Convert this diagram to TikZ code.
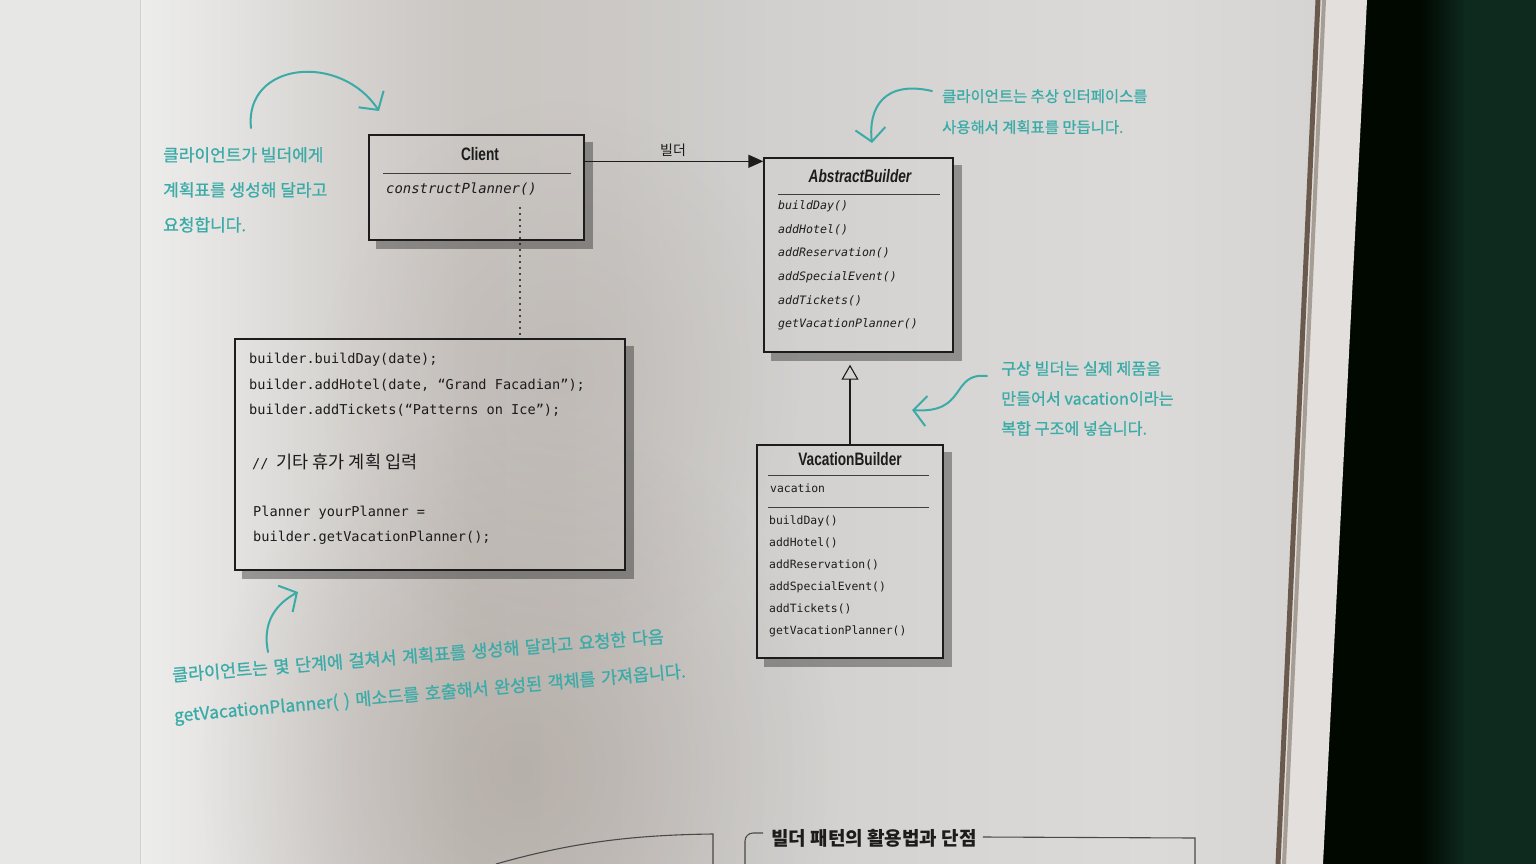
\documentclass[tikz,border=0pt]{standalone}
\usepackage{fontspec}
\setmainfont{Liberation Sans}
\setmonofont{DejaVu Sans Mono}
\newfontfamily\titlefont[FakeStretch=0.76]{Liberation Sans}
\newfontfamily\krfont{Noto Sans CJK KR}
\newfontfamily\handfont[FakeBold=0.9]{Noto Sans CJK KR}
\usetikzlibrary{arrows.meta,calc,fadings}

\tikzfading[name=softspot, inner color=transparent!0, outer color=transparent!100]

\definecolor{ink}{HTML}{1C1C1C}
\definecolor{notecol}{HTML}{3BABA8}
\definecolor{edgebrown}{HTML}{6A5A4E}
\definecolor{leftpage}{HTML}{E7E7E5}
\definecolor{pagestrip}{HTML}{E2DFDC}
\definecolor{deskgreen}{HTML}{0E291E}
\definecolor{pgA}{HTML}{EDEDEB}
\definecolor{pgB}{HTML}{E3E2E0}
\definecolor{pgC}{HTML}{D4D1CE}
\definecolor{pgD}{HTML}{CAC6C2}
\definecolor{pgE}{HTML}{CBC8C5}
\definecolor{pgF}{HTML}{D1D0CE}
\definecolor{pgG}{HTML}{D7D6D4}
\definecolor{pgH}{HTML}{DBDAD8}
\definecolor{pgI}{HTML}{D5D4D2}
\definecolor{pageshadow}{HTML}{8E8178}

\pgfdeclarelayer{paper}
\pgfdeclarelayer{shade}
\pgfsetlayers{paper,shade,main}

% paper tone across the page, light near the fold, greyer in the middle
\pgfdeclarehorizontalshading{pagetone}{100bp}{%
  color(0bp)=(pgA);
  color(25bp)=(pgA);
  color(29bp)=(pgB);
  color(34bp)=(pgC);
  color(39bp)=(pgD);
  color(45bp)=(pgE);
  color(52bp)=(pgF);
  color(60bp)=(pgG);
  color(68bp)=(pgH);
  color(75bp)=(pgI);
  color(100bp)=(pgI)}

\tikzset{
  umlbox/.style={draw=ink, line width=1.4pt, inner sep=0pt},
  divider/.style={draw=ink!85, line width=0.9pt},
  classtitle/.style={font=\fontsize{18}{20}\titlefont\bfseries, text=ink, inner sep=0pt},
  absmethod/.style={font=\fontsize{11.6}{14}\ttfamily\itshape, text=ink, anchor=west, inner sep=0pt},
  concmethod/.style={font=\fontsize{11.4}{14}\ttfamily, text=ink, anchor=west, inner sep=0pt},
  codeline/.style={font=\fontsize{13.6}{16}\ttfamily, text=ink, anchor=west, inner sep=0pt},
  note/.style={text=notecol, align=left, anchor=north west, inner sep=0pt},
  noteword/.style={text=notecol, inner sep=0pt, font=\fontsize{17.4}{20}\handfont},
  notearrow/.style={draw=notecol, line width=2pt, line cap=round,
    -{Straight Barb[length=13pt,width=30pt,line width=2pt]}},
  assoc/.style={draw=ink, line width=1.4pt, -{Triangle[length=15pt,width=13pt]}},
  generalize/.style={draw=ink, line width=1.1pt, -{Triangle[open,length=15pt,width=17pt]}},
  dotline/.style={draw=ink, line width=2.2pt, line cap=round, dash pattern=on 0pt off 6pt},
  boxshadow/.style={fill=black, opacity=0.33}
}

% grey drop shadow along the right and bottom edge of a box
\newcommand{\castshadow}[1]{%
  \fill[boxshadow] ([xshift=0.7pt,yshift=-8pt]#1.north east) rectangle ([xshift=8pt,yshift=-8pt]#1.south east);
  \fill[boxshadow] ([xshift=8pt,yshift=-0.7pt]#1.south west) rectangle ([xshift=0.7pt,yshift=-8pt]#1.south east);}

\begin{document}
\begin{tikzpicture}[x=1pt,y=-1pt]
\useasboundingbox (0,0) rectangle (1536,864);

% ---------- book and desk ----------
\begin{pgfonlayer}{paper}
  \fill[black!97!green] (0,0) rectangle (1536,864);
  \shade[left color=black!97!green, right color=deskgreen] (1420,0) rectangle (1465,864);
  \fill[deskgreen] (1465,0) rectangle (1536,864);
  \fill[pagestrip] (140,0) -- (1367,0) -- (1323,864) -- (140,864) -- cycle;
  \shade[shading=pagetone] (140,0) -- (1318,0) -- (1277,864) -- (140,864) -- cycle;
  % darker, warmer patch where the page curves down
  \begin{scope}
    \clip (140,0) -- (1318,0) -- (1277,864) -- (140,864) -- cycle;
    \fill[pageshadow, opacity=0.33, path fading=softspot] (520,770) ellipse (320pt and 360pt);
    \fill[pageshadow, opacity=0.18, path fading=softspot] (560,380) ellipse (240pt and 280pt);
  \end{scope}
  \draw[edgebrown, line width=5pt] (1318,0) -- (1278,864);
  \draw[edgebrown!50!pagestrip, line width=4pt] (1324,0) -- (1284,864);
  \fill[leftpage] (0,0) rectangle (140,864);
  \draw[black!18, line width=1pt] (140,0) -- (140,864);
\end{pgfonlayer}

% ---------- classes ----------
\node[umlbox, minimum width=215pt, minimum height=105pt] (client) at (476.5,187.5) {};
\node[classtitle] (clientT) at (480,154) {Client};
\draw[divider] (383,173) -- (571,173);
\node[absmethod, font=\fontsize{13.9}{15}\ttfamily\itshape] (clientM) at (386,189) {constructPlanner()};

\node[umlbox, minimum width=189pt, minimum height=194pt] (ab) at (858.5,255) {};
\node[classtitle, font=\fontsize{18}{20}\titlefont\bfseries\itshape] (abT) at (860,176) {AbstractBuilder};
\draw[divider] (778,194) -- (940,194);
\foreach \m [count=\i] in {buildDay(), addHotel(), addReservation(), addSpecialEvent(), addTickets(), getVacationPlanner()}
  \node[absmethod] (abm\i) at (778,{206+23.6*(\i-1)}) {\m};

\node[umlbox, minimum width=186pt, minimum height=213pt] (vb) at (850,551.5) {};
\node[classtitle] (vbT) at (850,459) {VacationBuilder};
\draw[divider] (768,475) -- (929,475);
\node[concmethod] (vbF) at (770,488) {vacation};
\draw[divider] (768,507) -- (929,507);
\foreach \m [count=\i] in {buildDay(), addHotel(), addReservation(), addSpecialEvent(), addTickets(), getVacationPlanner()}
  \node[concmethod] (vbm\i) at (769,{521+22*(\i-1)}) {\m};

% ---------- client code ----------
\node[umlbox, minimum width=390pt, minimum height=231pt] (code) at (430,454.5) {};
\node[codeline] (c1) at (249,360) {builder.buildDay(date);};
\node[codeline] (c2) at (249,385) {builder.addHotel(date, “Grand Facadian”);};
\node[codeline] (c3) at (249,410) {builder.addTickets(“Patterns on Ice”);};
\node[codeline] (c4) at (252,462) {// {\fontsize{17.5}{19}\krfont 기타 휴가 계획 입력}};
\node[codeline] (c5) at (253,513) {Planner yourPlanner =};
\node[codeline] (c6) at (253,538) {builder.getVacationPlanner();};

\begin{pgfonlayer}{shade}
  \castshadow{client}
  \castshadow{ab}
  \castshadow{vb}
  \castshadow{code}
\end{pgfonlayer}

% ---------- relations ----------
\coordinate (assocStart) at ([yshift=-27pt]client.north east);
\draw[assoc] (assocStart) -- (assocStart -| ab.west);
\node[font=\fontsize{14}{16}\krfont, text=ink, inner sep=0pt] (assocL) at (673,150) {빌더};

\coordinate (genEnd) at ([yshift=-12pt]ab.south -| vb.north);
\draw[generalize] (vb.north) -- (genEnd);

\coordinate (dotStart) at (520,208);
\draw[dotline] (dotStart) -- (dotStart |- code.north);

% ---------- handwritten notes ----------
\node[note, font=\fontsize{17}{35}\handfont] (noteA) at (163,147)
  {클라이언트가 빌더에게\\계획표를 생성해 달라고\\요청합니다.};
\coordinate (arrA) at (251,128);
\draw[notearrow] (arrA) .. controls (244,62) and (340,52) .. (379,111);

\node[note, font=\fontsize{15.4}{31}\handfont] (noteB) at (942,89)
  {클라이언트는 추상 인터페이스를\\사용해서 계획표를 만듭니다.};
\coordinate (arrB) at (932,91);
\draw[notearrow] (arrB) .. controls (884,80) and (868,108) .. (872,143);

\node[note, font=\fontsize{16.2}{30}\handfont] (noteC) at (1001,361)
  {구상 빌더는 실제 제품을\\만들어서 vacation이라는\\복합 구조에 넣습니다.};
\coordinate (arrC) at (987,376);
\draw[notearrow] (arrC) .. controls (950,372) and (968,414) .. (912,410);

% the long note under the code runs slightly uphill; each word follows the last
\node[noteword, rotate=4.5, anchor=west] (dA1) at (172,675) {클라이언트는};
\foreach \w [count=\i from 2, remember=\i as \j (initially 1)] in
    {몇, 단계에, 걸쳐서, 계획표를, 생성해, 달라고, 요청한, 다음}
  \node[noteword, rotate=4.5, anchor=base west] (dA\i) at (dA\j.base east) {\hspace{0.3em}\w};
\node[noteword, rotate=5.0, anchor=west] (dB1) at (174,717) {getVacationPlanner(};
\foreach \w [count=\i from 2, remember=\i as \j (initially 1)] in
    {), 메소드를, 호출해서, 완성된, 객체를, 가져옵니다.}
  \node[noteword, rotate=5.0, anchor=base west] (dB\i) at (dB\j.base east) {\hspace{0.3em}\w};
\coordinate (arrD) at (268,652);
\draw[notearrow] (arrD) .. controls (262,622) and (276,604) .. (298,592);

% ---------- next section frames ----------
\draw[ink!80, line width=1.1pt] (496,864) .. controls (570,843) and (630,835) .. (713,834) -- (713,864);
\draw[ink!80, line width=1.1pt, rounded corners=8pt] (745,864) -- (745,833) -- (763,833);
\node[font=\fontsize{19}{21}\krfont\bfseries, text=ink, inner sep=0pt] (secT) at (874,838) {빌더 패턴의 활용법과 단점};
\draw[ink!80, line width=1.1pt] (secT.east) ++(6,-1) -- (1195,838) -- (1195,864);
\end{tikzpicture}
\end{document}
